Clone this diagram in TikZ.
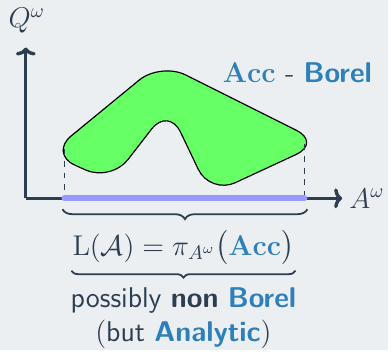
\documentclass[tikz,border=0pt]{standalone}
\usepackage{xcolor}
\usepackage{amsmath}
\usetikzlibrary{arrows.meta, decorations.pathreplacing, positioning}
\definecolor{bgslate}{HTML}{ECEFF1}
\definecolor{inkdark}{HTML}{2C3E50}
\definecolor{accblue}{HTML}{2E80BA}
\definecolor{accgreen}{HTML}{66FF66}
\definecolor{langpurple}{HTML}{9999FF}

\begin{document}
\begin{tikzpicture}[
    x=0.5pt, y=-0.5pt,
    >={Computer Modern Rightarrow[length=4pt, width=10pt]},
    every node/.style={font=\Large, text=inkdark},
    axis/.style={->, inkdark, line width=1.7pt},
    accshape/.style={fill=accgreen, draw=black, line width=0.6pt, rounded corners=14pt},
    proj/.style={dashed, inkdark, line width=0.7pt},
    brace/.style={decorate, decoration={brace, mirror, amplitude=#1}, inkdark, line width=0.9pt},
]
% background fixes the page size
\fill[bgslate] (0,0) rectangle (391,353);
% axes
\coordinate (O) at (26,200);
\coordinate (ytip) at (26,48);
\coordinate (xtip) at (345,200);
\draw[axis] (O) -- (ytip);
\draw[axis] (O) -- (xtip);
\node (qlabel) at (27,21) {$Q^\omega$};
\node (alabel) at (370,200) {$A^\omega$};
% the accepting set, drawn as a blob
\draw[accshape] (50,155) -- (162,63) -- (324,144) -- (212,196)
    -- (170,108) -- (112,183) -- cycle;
\node (acclabel) at (300,73) {$\textcolor{accblue}{\mathbf{Acc}}$ - \textcolor{accblue}{\sffamily\bfseries Borel}};
% projection onto A^omega
\coordinate (pl) at (65,200);
\coordinate (pr) at (307,200);
\draw[proj] (65,150) -- (pl);
\draw[proj] (307,145) -- (pr);
\draw[langpurple, line width=3pt, line cap=round] (pl) -- (pr);
% braces and the language
\coordinate (b1l) at (63,211);
\coordinate (b1r) at (310,211);
\draw[brace=5pt] (b1l) -- (b1r);
\node (lang) at (185,250) {$\mathrm{L}(\mathcal{A}) = \pi_{A^\omega}\big(\textcolor{accblue}{\mathbf{Acc}}\big)$};
\coordinate (b2l) at (72,273);
\coordinate (b2r) at (298,273);
\draw[brace=3.5pt] (b2l) -- (b2r);
\node (nonborel) at (185,303) {\sffamily possibly \textbf{non} \textcolor{accblue}{\textbf{Borel}}};
\node (analytic) at (185,337) {$($\sffamily but \textcolor{accblue}{\textbf{Analytic}}$)$};
\end{tikzpicture}
\end{document}
